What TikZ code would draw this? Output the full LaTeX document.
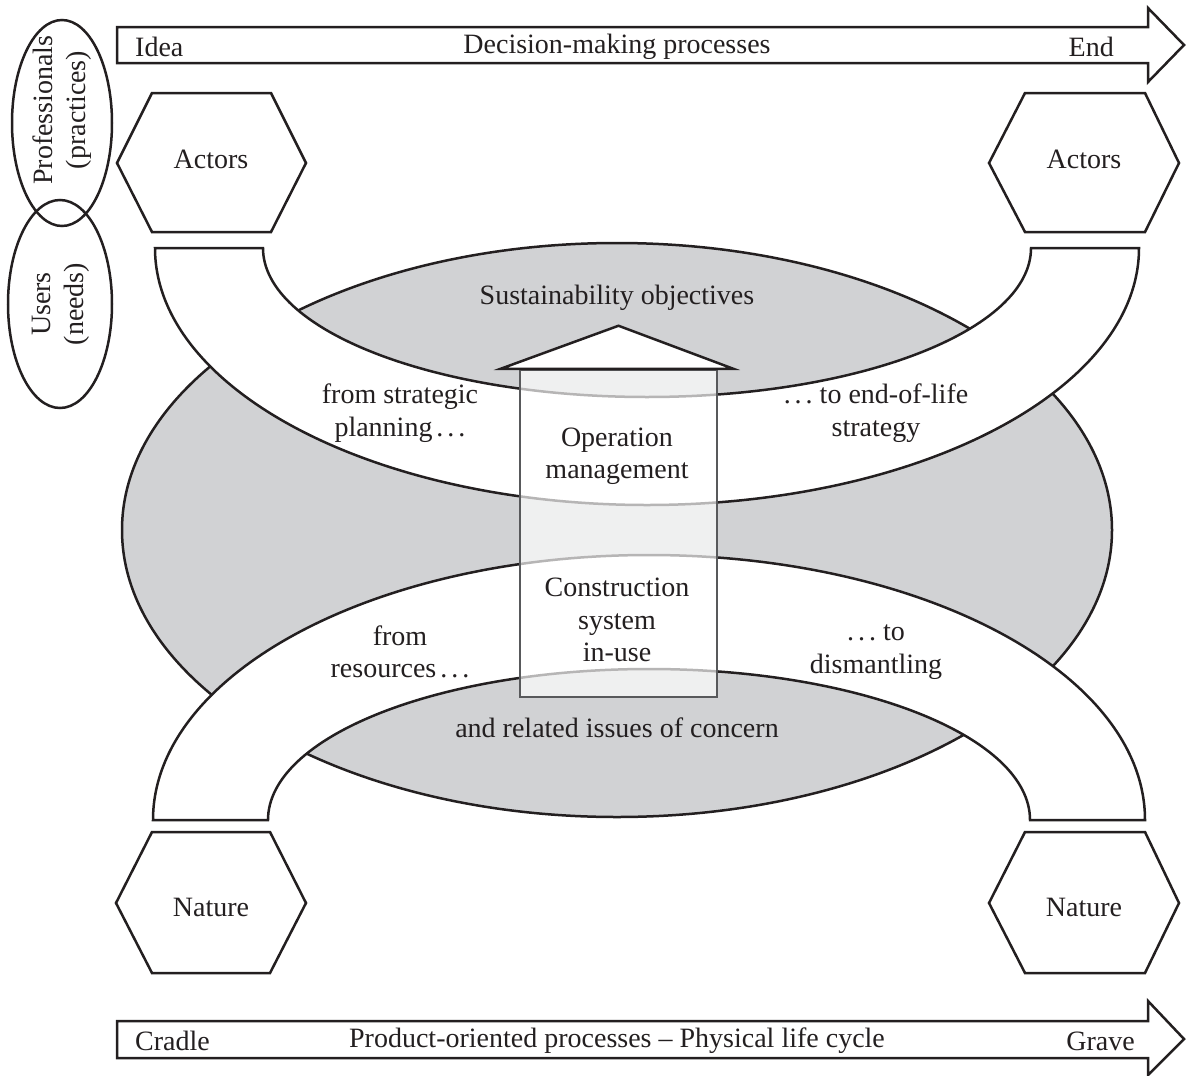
\documentclass[tikz,border=0pt]{standalone}
\usepackage{fontspec}
\setmainfont{Liberation Serif}
\usepackage{tikz}
\usetikzlibrary{calc,shapes.geometric}

\definecolor{lensgrey}{HTML}{D1D2D4}
\definecolor{boxgrey}{HTML}{58595B}
\definecolor{inkc}{HTML}{231F20}

\newcommand\dotsep{.\kern4pt.\kern4pt.}

\tikzset{
  outl/.style={draw=inkc, line width=2.5pt, line join=miter},
  lbl/.style={font=\fontsize{28}{32.5}\selectfont, text=inkc, align=center, inner sep=0pt},
  band/.style={outl, fill=white},
}

\begin{document}
\begin{tikzpicture}[x=1pt, y=-1pt]
  \useasboundingbox (0,0) rectangle (1186,1076);
  % big lens behind everything
  \node[outl, fill=lensgrey, ellipse, minimum width=990, minimum height=574, inner sep=0pt] (lens) at (617,530) {};
  % upper and lower bands
  \draw[band] (155,248) arc[start angle=180, end angle=0, x radius=492, y radius=257]
    -- (1031,248) arc[start angle=0, end angle=180, x radius=384, y radius=149] -- cycle;
  \draw[band] (153,820) arc[start angle=180, end angle=360, x radius=496, y radius=265]
    -- (1030,820) arc[start angle=360, end angle=180, x radius=381, y radius=151] -- cycle;
  % central box with roof
  \node[draw=boxgrey, line width=2.5pt, fill=white, fill opacity=0.67, minimum width=197, minimum height=327, inner sep=0pt] (core) at (618.5,533.5) {};
  \draw[outl, fill=white] ($(core.north west)+(-18,0)$) -- ($(core.north)+(0,-43)$) -- ($(core.north east)+(15,0)$) -- cycle;

  % process arrows
  \draw[outl] (117,27) -- (1148,27) -- (1148,8) -- (1184,45) -- (1148,82) -- (1148,63) -- (117,63) -- cycle;
  \draw[outl] (117,1021) -- (1148,1021) -- (1148,1001) -- (1184,1039) -- (1148,1075) -- (1148,1058) -- (117,1058) -- cycle;
  \node[lbl, anchor=west] (idea) at (135,47) {Idea};
  \node[lbl] (decide) at (617,47) {Decision-making processes};
  \node[lbl, anchor=east] (end) at (1114,47) {End};
  \node[lbl, anchor=west] (cradle) at (135,1041) {Cradle};
  \node[lbl] (product) at (617,1041) {Product-oriented processes -- Physical life cycle};
  \node[lbl, anchor=east] (grave) at (1135,1041) {Grave};

  % left ovals
  \draw[outl] (62,123) ellipse[x radius=50, y radius=103];
  \draw[outl] (60,304) ellipse[x radius=52, y radius=104];
  \node[lbl, rotate=90] (prof) at (62,110) {Professionals\\(practices)};
  \node[lbl, rotate=90] (users) at (61,304) {Users\\(needs)};

  % hexagons
  \node[lbl] (actL) at (211,159) {Actors};
  \node[lbl] (actR) at (1084,159) {Actors};
  \node[lbl] (natL) at (211,907) {Nature};
  \node[lbl] (natR) at (1084,907) {Nature};
  \draw[outl] (211,163) ++(-94,0) -- ++(35,-70) -- ++(119,0) -- ++(35,70) -- ++(-35,69) -- ++(-119,0) -- cycle;
  \draw[outl] (1084,163) ++(-95,0) -- ++(36,-70) -- ++(120,0) -- ++(34,70) -- ++(-34,69) -- ++(-120,0) -- cycle;
  \draw[outl] (211,903) ++(-95,0) -- ++(36,-71) -- ++(118,0) -- ++(36,71) -- ++(-36,70) -- ++(-118,0) -- cycle;
  \draw[outl] (1084,903) ++(-95,0) -- ++(36,-71) -- ++(120,0) -- ++(34,71) -- ++(-34,70) -- ++(-120,0) -- cycle;

  % texts in lens and bands
  \node[lbl] (goals) at (617,298) {Sustainability objectives};
  \node[lbl] (issues) at (617,728) {and related issues of concern};
  \node[lbl] (plan) at (400,413) {from strategic\\planning\kern4pt\dotsep};
  \node[lbl] (eol) at (876,413) {\dotsep\ to end-of-life\\strategy};
  \node[lbl] (res) at (400,652) {from\\resources\kern4pt\dotsep};
  \node[lbl] (dism) at (876,652) {\dotsep\ to\\dismantling};
  \node[lbl] (opm) at (617,456) {Operation\\management};
  \node[lbl] (csys) at (617,620) {Construction\\system\\in-use};
\end{tikzpicture}
\end{document}
